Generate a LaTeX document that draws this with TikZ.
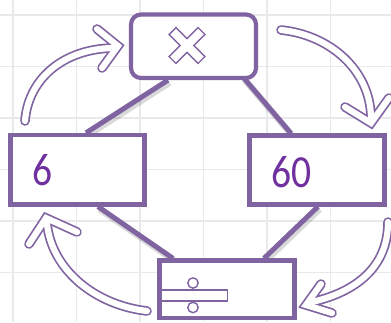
\documentclass[tikz,border=0pt]{standalone}
\usepackage{fontspec}
\newfontfamily\calib{Carlito}
\definecolor{boxc}{HTML}{8064A2}
\definecolor{txtc}{HTML}{7030A0}
\definecolor{gridc}{HTML}{E9E9EC}
\pgfdeclarelayer{bg}
\pgfdeclarelayer{links}
\pgfsetlayers{bg,links,main}
\begin{document}
\begin{tikzpicture}[x=1pt,y=-1pt,
  box/.style={draw=boxc, line width=4.2pt, fill=white, inner sep=0pt},
  link/.style={draw=boxc, line width=5pt},
  linkshadow/.style={draw=black, opacity=0.15, line width=6.5pt},
  arrowout/.style={draw=boxc, line width=9.6pt, line cap=round},
  arrowin/.style={draw=white, line width=6.2pt, line cap=round},
  sym/.style={draw=boxc, line width=1.4pt, fill=white},
  num/.style={text=txtc, font=\calib\fontsize{46}{46}\selectfont, inner sep=0pt},
  gridline/.style={draw=gridc, line width=1.6pt}
]
\useasboundingbox (0,0) rectangle (391,322);
\begin{pgfonlayer}{bg}
\fill[white] (0,0) rectangle (391,322);
\foreach \x in {13,76.5,140,203.5,267,330.5}
  \draw[gridline] (\x,0) -- (\x,322);
\foreach \y in {15,66.5,118,169.5,221,272.5}
  \draw[gridline] (0,\y) -- (391,\y);
\end{pgfonlayer}

% boxes
\node[box, minimum width=125pt, minimum height=63.5pt, rounded corners=10pt] (mul) at (193.5,46.25) {};
\node[box, minimum width=134pt, minimum height=69.5pt] (six) at (77.5,169.75) {};
\node[box, minimum width=135pt, minimum height=69pt] (sixty) at (317,170) {};
\node[box, minimum width=135pt, minimum height=57.5pt] (div) at (227,289.25) {};

% connector end points on the box borders
\path (mul.south) ++(-25.5,0) coordinate (l1a);
\path (six.north) ++(8.5,0) coordinate (l1b);
\path (mul.south) ++(49.5,-3) coordinate (l2a);
\path (sixty.north) ++(-26,0) coordinate (l2b);
\path (six.south) ++(20.5,0) coordinate (l3a);
\path (div.north) ++(-54,0) coordinate (l3b);
\path (sixty.south) ++(1,0) coordinate (l4a);
\path (div.north) ++(37,0) coordinate (l4b);

\begin{pgfonlayer}{links}
\foreach \a/\b in {l1a/l1b,l2a/l2b,l3a/l3b,l4a/l4b}{
  \draw[linkshadow] ([shift={(1.5,2.5)}]\a) -- ([shift={(1.5,2.5)}]\b);
  \draw[link] (\a) -- (\b);
}
\end{pgfonlayer}

% symbols and numbers
\begin{scope}[shift={(187,45.5)}, rotate=45]
\draw[sym] (20.5,4.8) -- (4.8,4.8) -- (4.8,20.5) -- (-4.8,20.5) -- (-4.8,4.8) -- (-20.5,4.8)
  -- (-20.5,-4.8) -- (-4.8,-4.8) -- (-4.8,-20.5) -- (4.8,-20.5) -- (4.8,-4.8) -- (20.5,-4.8) -- cycle;
\end{scope}
\draw[sym] (161.5,290) rectangle (227.5,301);
\draw[sym] (193,283) circle[radius=5.2];
\draw[sym] (193,307.5) circle[radius=5.2];

\node[num] (t6) at (42.5,170) {\scalebox{0.86}[1]{6}};
\node[num] (t60) at (291.5,172) {\scalebox{0.86}[1]{60}};

% hollow curved arrows: outlines first, then inner white
\def\shA{(25,121) .. controls (28,80) and (62,49) .. (113,48)}
\def\hdA{(97,29) -- (118,46) -- (102,68)}
\def\shB{(281,30) .. controls (330,35) and (370,70) .. (371,117)}
\def\hdB{(345,107) -- (371,123) -- (389,98)}
\def\shC{(388,222) .. controls (388,268) and (355,292) .. (312,302)}
\def\hdC{(321,284) -- (306,305) -- (332,313)}
\def\shD{(147,311) .. controls (95,305) and (52,270) .. (47,224)}
\def\hdD{(29,244) -- (46,218) -- (77,232)}
\foreach \s/\h in {\shA/\hdA,\shB/\hdB,\shC/\hdC,\shD/\hdD}{
  \draw[arrowout] \s;
  \draw[arrowout, line join=miter] \h;
}
\foreach \s/\h in {\shA/\hdA,\shB/\hdB,\shC/\hdC,\shD/\hdD}{
  \draw[arrowin] \s;
  \draw[arrowin, line join=miter] \h;
}
\end{tikzpicture}
\end{document}
